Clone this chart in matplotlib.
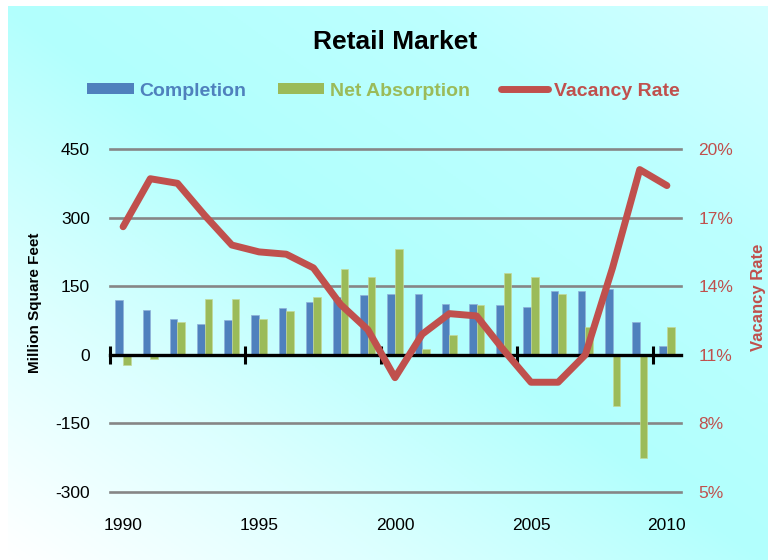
import numpy as np
import matplotlib
matplotlib.use("Agg")
import matplotlib.pyplot as plt
from matplotlib.colors import LinearSegmentedColormap
from matplotlib.patches import Patch
from matplotlib.lines import Line2D

years = list(range(1990, 2011))
completion = [120, 98, 79, 67, 76, 87, 103, 115, 127, 131, 132, 132, 111, 111, 108, 104, 139, 139, 143, 71, 20]
net_absorption = [-22, -10, 71, 123, 123, 79, 95, 127, 187, 171, 231, 12, 44, 108, 178, 171, 132, 60, -111, -226, 60]
vacancy_rate = [16.6, 18.7, 18.5, 17.1, 15.8, 15.5, 15.4, 14.8, 13.2, 12.1, 10.0, 11.9, 12.8, 12.7, 11.2, 9.8, 9.8, 11.0, 14.8, 19.1, 18.4]
left_ticks = [-300, -150, 0, 150, 300, 450]
right_ticks = [5, 8, 11, 14, 17, 20]
label_years = [1990, 1995, 2000, 2005, 2010]

BLUE = "#4f81bd"
GREEN = "#9bbb59"
RED = "#c0504d"
FONT = ["Liberation Sans", "DejaVu Sans"]
plt.rcParams["font.family"] = FONT

fig = plt.figure(figsize=(7.68, 5.6), dpi=100)
fig.patch.set_facecolor("white")

# background gradient
bg = fig.add_axes([8 / 768, 0, 1 - 8 / 768, 1 - 6 / 560])
bg.set_axis_off()
cmap = LinearSegmentedColormap.from_list(
    "bgc", [(0.0, "#ffffff"), (0.25, "#dcffff"), (0.5, "#b2fffd"), (0.78, "#bcffff"), (1.0, "#d4ffff")])
gx, gy = np.meshgrid(np.linspace(0, 1, 300), np.linspace(0, 1, 300))
t = (gx + gy) / 2
bg.imshow(t, cmap=cmap, origin="lower", extent=[0, 1, 0, 1], aspect="auto", vmin=0, vmax=1)
bg.set_zorder(-10)

ax = fig.add_axes([109.5 / 768, 1 - 492 / 560, 571 / 768, 343 / 560])
ax.set_facecolor("none")
x = np.arange(len(years))
w = 0.28
ax.bar(x - w / 2, completion, width=w, color=BLUE, edgecolor="#8fb0d8", linewidth=0.5, zorder=3)
ax.bar(x + w / 2, net_absorption, width=w, color=GREEN, edgecolor="#c4d89a", linewidth=0.5, zorder=3)
ax.set_xlim(-0.5, len(years) - 0.5)
ax.set_ylim(-300, 450)
ax.set_yticks(left_ticks)
ax.set_yticklabels([str(v) for v in left_ticks], fontsize=12.5)
ax.tick_params(axis="y", length=0, pad=14, labelcolor="black")
for s in ["top", "right", "left"]:
    ax.spines[s].set_visible(False)
ax.yaxis.grid(True, color="#868686", linewidth=1.9, zorder=1)
ax.set_axisbelow(True)
for gl in ax.get_ygridlines():
    gl.set_clip_on(False)

# x axis line at zero with boundary ticks
ax.spines["bottom"].set_position(("data", 0))
ax.spines["bottom"].set_linewidth(2.4)
ax.spines["bottom"].set_zorder(4)
ax.set_xticks(np.arange(-0.5, len(years), 5))
ax.set_xticklabels([])
ax.tick_params(axis="x", direction="inout", length=13, width=2.2, color="black")

# year labels at the bottom
sec = ax.secondary_xaxis(0)
sec.set_xticks([years.index(y) for y in label_years])
sec.set_xticklabels([str(y) for y in label_years], fontsize=12.5)
sec.tick_params(length=0, pad=19)
sec.spines["bottom"].set_visible(False)

fig.text(35 / 768, 1 - 303 / 560, "Million Square Feet", rotation=90, ha="center", va="center",
         fontsize=11, fontweight="bold")

ax2 = ax.twinx()
ax2.plot(x, vacancy_rate, color=RED, linewidth=5, solid_capstyle="round", solid_joinstyle="round", zorder=5)
ax2.set_ylim(5, 20)
ax2.set_yticks(right_ticks)
ax2.set_yticklabels([f"{v}%" for v in right_ticks], fontsize=12.5, color=RED)
ax2.tick_params(axis="y", length=0, pad=13)
for s in ["top", "right", "left", "bottom"]:
    ax2.spines[s].set_visible(False)

fig.text(759 / 768, 1 - 297 / 560, "Vacancy Rate", rotation=90, ha="center", va="center",
         fontsize=12, fontweight="bold", color=RED)

fig.text(0.514, 0.925, "Retail Market", ha="center", va="center", fontsize=19, fontweight="bold")

handles = [Patch(facecolor=BLUE, edgecolor="none"),
           Patch(facecolor=GREEN, edgecolor="none"),
           Line2D([0], [0], color=RED, linewidth=5, solid_capstyle="round")]
leg = fig.legend(handles, ["Completion", "Net Absorption", "Vacancy Rate"], loc="center",
                 bbox_to_anchor=(0.499, 0.8375), ncol=3, frameon=False,
                 prop={"size": 14, "weight": "bold"}, handlelength=2.4, handleheight=0.45,
                 handletextpad=0.3, columnspacing=1.6)
for txt, c in zip(leg.get_texts(), [BLUE, GREEN, RED]):
    txt.set_color(c)

fig.savefig("out.png", dpi=100)
